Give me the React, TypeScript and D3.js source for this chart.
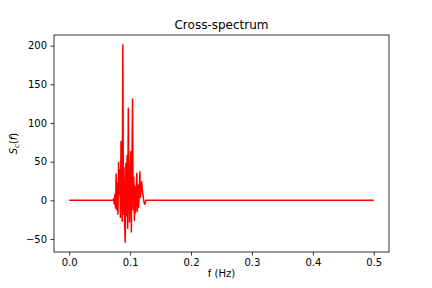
import * as d3 from 'd3';
import { useEffect, useRef } from 'react';

// frequency step and where the active part of the spectrum begins
const freqStep = 0.001;
const activeStart = 0.072;
const freqEnd = 0.5;

// cross-spectrum values, from 0.072 Hz on
const spectrumValues = [
  0, 2, -5, 8, -10, 34, -12, 22, -18, 49,
  8, 40, -22, 76, 12, -27, 201, -18, 42, -32,
  -54, 48, -20, 58, -36, 119, 18, -28, 40, 63,
  -41, 52, 131, -12, 30, -26, 18, -16, 12, 35,
  -14, 20, -9, 10, 37, 4, 12, 24, 14, 8,
  2, -3, -5, -3, 0,
];

const xTicks = [0, 0.1, 0.2, 0.3, 0.4, 0.5];
const yTicks = [-50, 0, 50, 100, 150, 200];

const App = () => {
  const graphRef = useRef<SVGSVGElement | null>(null);

  useEffect(() => {
    const svg = d3.select(graphRef.current);
    svg.selectAll('*').remove();

    const width = 432;
    const height = 288;
    const margin = { top: 35, right: 43, bottom: 36, left: 54 };
    const font = 'DejaVu Sans, sans-serif';

    const data = [{ f: 0, v: 0 }]
      .concat(spectrumValues.map((v, i) => ({ f: activeStart + i * freqStep, v })))
      .concat([{ f: freqEnd, v: 0 }]);

    // scales with matplotlib's 5% padding
    const xExt = [0, freqEnd];
    const xPad = (xExt[1] - xExt[0]) * 0.05;
    const xScale = d3.scaleLinear()
      .domain([xExt[0] - xPad, xExt[1] + xPad])
      .range([margin.left, width - margin.right]);

    const yExt = d3.extent(data, d => d.v) as [number, number];
    const yPad = (yExt[1] - yExt[0]) * 0.05;
    const yScale = d3.scaleLinear()
      .domain([yExt[0] - yPad, yExt[1] + yPad])
      .range([height - margin.bottom, margin.top]);

    svg.append('rect')
      .attr('width', width).attr('height', height).attr('fill', 'white');

    // the line
    const line = d3.line<{ f: number; v: number }>()
      .x(d => xScale(d.f))
      .y(d => yScale(d.v));

    svg.append('path')
      .datum(data)
      .attr('d', line)
      .attr('fill', 'none')
      .attr('stroke', 'red')
      .attr('stroke-width', 1.5)
      .attr('stroke-linejoin', 'round');

    // frame
    svg.append('rect')
      .attr('x', margin.left)
      .attr('y', margin.top)
      .attr('width', width - margin.left - margin.right)
      .attr('height', height - margin.top - margin.bottom)
      .attr('fill', 'none')
      .attr('stroke', 'black')
      .attr('stroke-width', 0.8);

    // axes
    const xAxis = d3.axisBottom(xScale)
      .tickValues(xTicks)
      .tickFormat(d3.format('.1f'))
      .tickSize(3.5)
      .tickPadding(3.5);

    const yAxis = d3.axisLeft(yScale)
      .tickValues(yTicks)
      .tickFormat(d3.format('d'))
      .tickSize(3.5)
      .tickPadding(3.5);

    const gx = svg.append('g')
      .attr('transform', `translate(0, ${height - margin.bottom})`)
      .call(xAxis);

    const gy = svg.append('g')
      .attr('transform', `translate(${margin.left}, 0)`)
      .call(yAxis);

    [gx, gy].forEach(g => {
      g.select('.domain').remove();
      g.selectAll('line').attr('stroke', 'black').attr('stroke-width', 0.8);
      g.selectAll('text')
        .attr('font-family', font)
        .attr('font-size', 10)
        .attr('fill', 'black');
    });

    // title and labels
    svg.append('text')
      .attr('x', (margin.left + width - margin.right) / 2)
      .attr('y', 29)
      .attr('text-anchor', 'middle')
      .attr('font-family', font)
      .attr('font-size', 12)
      .text('Cross-spectrum');

    svg.append('text')
      .attr('x', (margin.left + width - margin.right) / 2)
      .attr('y', 277)
      .attr('text-anchor', 'middle')
      .attr('font-family', font)
      .attr('font-size', 10)
      .text('f (Hz)');

    const ylab = svg.append('text')
      .attr('transform', `translate(17, ${(margin.top + height - margin.bottom) / 2}) rotate(-90)`)
      .attr('text-anchor', 'middle')
      .attr('font-family', font)
      .attr('font-size', 10);
    ylab.append('tspan').attr('font-style', 'italic').text('S');
    ylab.append('tspan').attr('font-style', 'italic').attr('font-size', 7).attr('dy', 2).text('c');
    ylab.append('tspan').attr('dy', -2).text('(');
    ylab.append('tspan').attr('font-style', 'italic').text('f');
    ylab.append('tspan').text(')');
  }, []);

  return (
    <svg
      ref={graphRef}
      width="432"
      height="288"
      style={{ position: 'absolute', left: 0, top: 0 }}
    ></svg>
  );
};

export default App;
